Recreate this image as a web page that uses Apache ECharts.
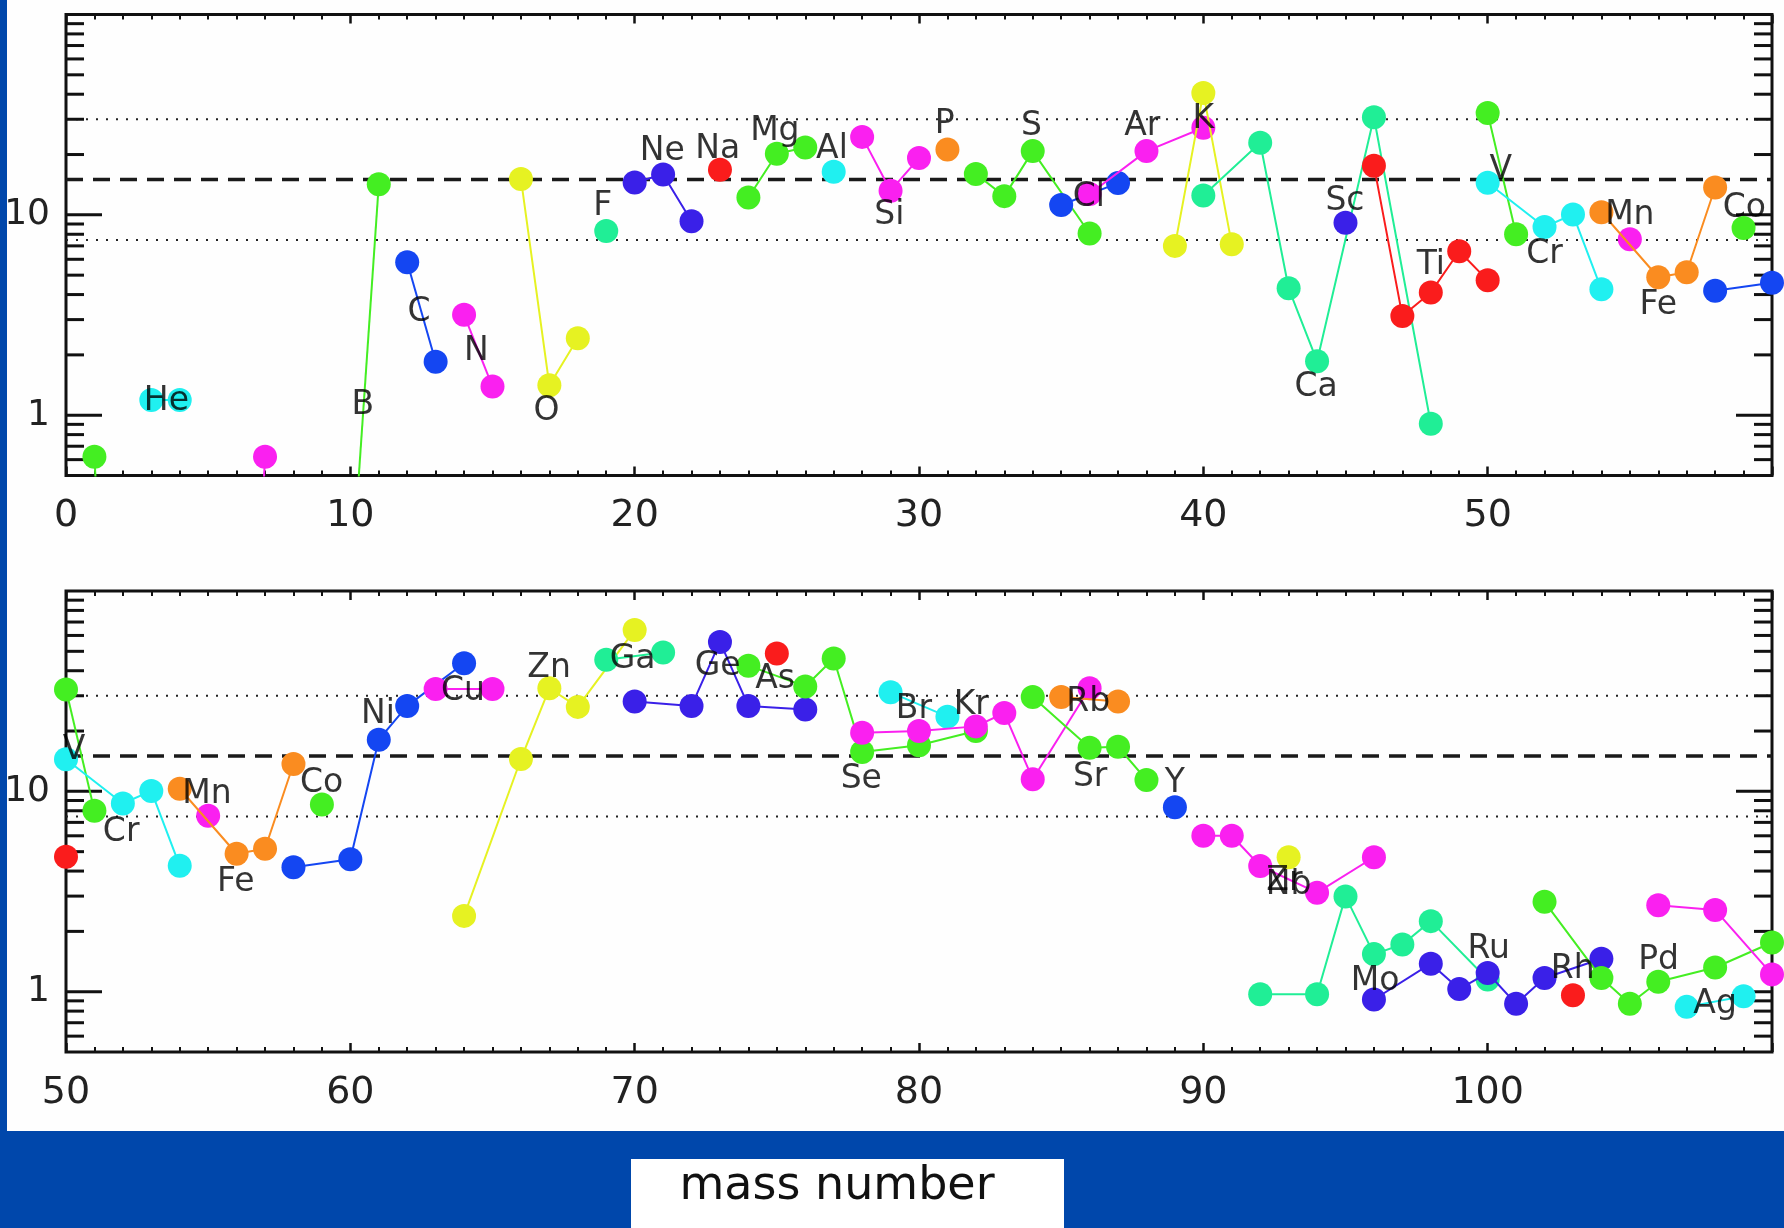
<!DOCTYPE html>
<html>
<head>
<meta charset="utf-8">
<title>Isotope ratios versus mass number</title>
<script src="https://cdn.jsdelivr.net/npm/echarts@6/dist/echarts.min.js"></script>
<style>
  html, body { margin: 0; padding: 0; background: #0047ab; }
  #chart { width: 1784px; height: 1228px; }
</style>
</head>
<body>
<div id="chart"></div>
<script>
// ---- isotopes of each element: [mass number, value] ----
const H  = [[1, 0.62], [2, 0.001]];
const He = [[3, 1.19], [4, 1.19]];
const Li = [[6, 0.001], [7, 0.62]];
const B  = [[10, 0.12], [11, 14.2]];
const C  = [[12, 5.8], [13, 1.85]];
const N  = [[14, 3.17], [15, 1.39]];
const O  = [[16, 15.1], [17, 1.41], [18, 2.42]];
const F  = [[19, 8.3]];
const Ne = [[20, 14.5], [21, 15.9], [22, 9.3]];
const Na = [[23, 16.8]];
const Mg = [[24, 12.2], [25, 20.2], [26, 21.7]];
const Al = [[27, 16.4]];
const Si = [[28, 24.5], [29, 13.2], [30, 19.2]];
const P  = [[31, 21.2]];
const S  = [[32, 16.0], [33, 12.4], [34, 20.8], [36, 8.07]];
const Cl = [[35, 11.2], [37, 14.4]];
const Ar = [[36, 12.7], [38, 20.8], [40, 27.2]];
const K  = [[39, 7.0], [40, 40.6], [41, 7.14]];
const Ca = [[40, 12.5], [42, 22.9], [43, 4.3], [44, 1.86], [46, 30.7], [48, 0.906]];
const Sc = [[45, 9.14]];
const Ti = [[46, 17.6], [47, 3.13], [48, 4.10], [49, 6.58], [50, 4.71]];
const V  = [[50, 32.2], [51, 8.0]];
const Cr = [[50, 14.45], [52, 8.7], [53, 10.05], [54, 4.25]];
const Mn = [[55, 7.55]];
const Fe = [[54, 10.3], [56, 4.88], [57, 5.17], [58, 13.7]];
const Co = [[59, 8.6]];
const Ni = [[58, 4.18], [60, 4.58], [61, 18.1], [62, 26.7], [64, 43.6]];
const Cu = [[63, 32.4], [65, 32.4]];
const Zn = [[64, 2.39], [66, 14.5], [67, 32.7], [68, 26.4], [70, 63.8]];
const Ga = [[69, 45.4], [71, 49.3]];
const Ge = [[70, 28.1], [72, 26.7], [73, 55.7], [74, 26.7], [76, 25.6]];
const As = [[75, 48.7]];
const Se = [[74, 42.4], [76, 33.4], [77, 46.0], [78, 15.7], [80, 17.0], [82, 20.0]];
const Br = [[79, 31.2], [81, 23.6]];
const Kr = [[78, 19.6], [80, 20.0], [82, 21.1], [83, 24.6], [84, 11.5], [86, 32.7]];
const Rb = [[85, 29.6], [87, 28.1]];
const Sr = [[84, 29.6], [86, 16.5], [87, 16.7], [88, 11.4]];
const Y  = [[89, 8.32]];
const Zr = [[90, 6.0], [91, 6.0], [92, 4.24], [94, 3.12], [96, 4.69]];
const Nb = [[93, 4.69]];
const Mo = [[92, 0.97], [94, 0.97], [95, 2.99], [96, 1.54], [97, 1.72], [98, 2.25], [100, 1.15]];
const Ru = [[96, 0.914], [98, 1.38], [99, 1.03], [100, 1.24], [101, 0.87], [102, 1.17], [104, 1.46]];
const Rh = [[103, 0.96]];
const Pd = [[102, 2.81], [104, 1.17], [105, 0.87], [106, 1.12], [108, 1.32], [110, 1.76]];
const Ag = [[107, 0.84], [109, 0.95]];
const Cd = [[106, 2.70], [108, 2.56], [110, 1.22]];

// drawing order (by atomic number)
const elementOrder = ['H', 'He', 'Li', 'B', 'C', 'N', 'O', 'F', 'Ne', 'Na', 'Mg', 'Al', 'Si', 'P',
  'S', 'Cl', 'Ar', 'K', 'Ca', 'Sc', 'Ti', 'V', 'Cr', 'Mn', 'Fe', 'Co', 'Ni', 'Cu', 'Zn', 'Ga',
  'Ge', 'As', 'Se', 'Br', 'Kr', 'Rb', 'Sr', 'Y', 'Zr', 'Nb', 'Mo', 'Ru', 'Rh', 'Pd', 'Ag', 'Cd'];
const isotopes = { H, He, Li, B, C, N, O, F, Ne, Na, Mg, Al, Si, P, S, Cl, Ar, K, Ca, Sc, Ti, V, Cr,
  Mn, Fe, Co, Ni, Cu, Zn, Ga, Ge, As, Se, Br, Kr, Rb, Sr, Y, Zr, Nb, Mo, Ru, Rh, Pd, Ag, Cd };

// element names written in each panel: [symbol, mass number, value]
const upperNames = [
  ['He', 3.53, 1.17], ['B', 10.44, 1.12], ['C', 12.42, 3.27], ['N', 14.43, 2.08], ['O', 16.9, 1.05],
  ['F', 18.88, 11.0], ['Ne', 20.97, 20.8], ['Na', 22.92, 21.2], ['Mg', 24.93, 26.1], ['Al', 26.94, 21.2],
  ['Si', 28.96, 9.9], ['P', 30.9, 28.3], ['S', 33.96, 27.7], ['Cl', 35.97, 12.2], ['Ar', 37.85, 27.7],
  ['K', 40.0, 30.1], ['Ca', 43.97, 1.38], ['Sc', 44.98, 11.7], ['Ti', 48.0, 5.58], ['V', 50.46, 16.6],
  ['Cr', 52.0, 6.31], ['Mn', 55.0, 9.9], ['Fe', 56.0, 3.55], ['Co', 59.03, 10.8]
];
const lowerNames = [
  ['V', 50.28, 16.0], ['Cr', 51.94, 6.25], ['Mn', 54.96, 9.6], ['Fe', 55.97, 3.52], ['Co', 58.99, 10.9],
  ['Ni', 60.97, 24.1], ['Cu', 63.96, 31.4], ['Zn', 66.99, 41.3], ['Ga', 69.93, 45.4], ['Ge', 72.92, 41.9],
  ['As', 74.94, 36.3], ['Se', 77.97, 11.5], ['Br', 79.82, 25.6], ['Kr', 81.84, 26.7], ['Rb', 85.95, 27.8],
  ['Sr', 86.02, 11.8], ['Y', 89.0, 10.9], ['Zr', 92.85, 3.55], ['Nb', 93.0, 3.4], ['Mo', 96.04, 1.12],
  ['Ru', 100.04, 1.62], ['Rh', 102.99, 1.29], ['Pd', 106.01, 1.43], ['Ag', 108.0, 0.86]
];

// horizontal reference levels
const dashedLevels = [15];
const dottedLevels = [7.5, 30];

// axis ranges and ticks
const upperMassRange = [0, 60];
const lowerMassRange = [50, 110];
const valueRange = [0.5, 100];
const massStep = 10;
const valueTicks = [0.6, 0.7, 0.8, 0.9, 1, 2, 3, 4, 5, 6, 7, 8, 9, 10, 20, 30, 40, 50, 60, 70, 80, 90];
const valueTickLabels = [1, 10];

// ---- styles ----
const GREEN = '#44ee22', CYAN = '#20f0f0', MAGENTA = '#fa20f0', BLUE = '#1446f2', VIOLET = '#3a20e8',
      YELLOW = '#e6f222', TEAL = '#20ee96', RED = '#fa1c1c', ORANGE = '#fa8c20';
const elementColor = {
  H: GREEN, He: CYAN, Li: MAGENTA, B: GREEN, C: BLUE, N: MAGENTA, O: YELLOW, F: TEAL, Ne: VIOLET,
  Na: RED, Mg: GREEN, Al: CYAN, Si: MAGENTA, P: ORANGE, S: GREEN, Cl: BLUE, Ar: MAGENTA, K: YELLOW,
  Ca: TEAL, Sc: VIOLET, Ti: RED, V: GREEN, Cr: CYAN, Mn: MAGENTA, Fe: ORANGE, Co: GREEN, Ni: BLUE,
  Cu: MAGENTA, Zn: YELLOW, Ga: TEAL, Ge: VIOLET, As: RED, Se: GREEN, Br: CYAN, Kr: MAGENTA,
  Rb: ORANGE, Sr: GREEN, Y: BLUE, Zr: MAGENTA, Nb: YELLOW, Mo: TEAL, Ru: VIOLET, Rh: RED,
  Pd: GREEN, Ag: CYAN, Cd: MAGENTA
};
const FONT = '"DejaVu Sans", "Liberation Sans", sans-serif';
const INK = '#111111';

const panels = [
  { range: upperMassRange, names: upperNames, grid: { left: 66, top: 14.5, width: 1706, height: 461 } },
  { range: lowerMassRange, names: lowerNames, grid: { left: 66, top: 591, width: 1706, height: 461 } }
];

const grids = [], xAxes = [], yAxes = [], series = [];

panels.forEach((panel, g) => {
  grids.push(Object.assign({ show: true, borderColor: INK, borderWidth: 3, backgroundColor: 'transparent' }, panel.grid));

  const tickCommon = {
    type: 'value', gridIndex: g, min: panel.range[0], max: panel.range[1], interval: massStep,
    axisLine: { show: false }, splitLine: { show: false },
    axisTick: { show: true, inside: true, length: 9, lineStyle: { color: INK, width: 2.5 } },
    minorTick: { show: true, splitNumber: 10, length: 5, lineStyle: { color: INK, width: 2 } }
  };
  // bottom axis with labels
  xAxes.push(Object.assign({}, tickCommon, {
    position: 'bottom',
    axisLabel: { show: true, fontSize: 38, fontFamily: FONT, color: '#222', margin: 22, showMaxLabel: false }
  }));
  // top axis, ticks only
  xAxes.push(Object.assign({}, tickCommon, { position: 'top', axisLabel: { show: false } }));

  yAxes.push({
    type: 'log', logBase: 10, gridIndex: g, min: valueRange[0], max: valueRange[1],
    axisLine: { show: false }, axisTick: { show: false }, splitLine: { show: false }, minorTick: { show: false },
    axisLabel: {
      fontSize: 36, fontFamily: FONT, color: '#222', margin: 16,
      formatter: v => valueTickLabels.some(t => Math.abs(v - t) < 1e-6) ? String(Math.round(v)) : ''
    }
  });

  const xBottom = 2 * g;

  // reference levels
  const levelLine = (level, type) => ({
    type: 'line', xAxisIndex: xBottom, yAxisIndex: g, silent: true, symbol: 'none', z: 1,
    data: [[panel.range[0], level], [panel.range[1], level]],
    lineStyle: type === 'dashed'
      ? { color: '#1a1a1a', width: 3.5, type: [17, 10] }
      : { color: '#222', width: 2, type: [2, 8] }
  });
  dashedLevels.forEach(l => series.push(levelLine(l, 'dashed')));
  dottedLevels.forEach(l => series.push(levelLine(l, 'dotted')));

  // log ticks on the left and right frame
  series.push({
    type: 'custom', xAxisIndex: xBottom, yAxisIndex: g, silent: true, z: 5,
    encode: { x: 0, y: 1 },
    data: valueTicks.map(v => [panel.range[0], v]),
    renderItem: (params, api) => {
      const v = api.value(1);
      const lg = Math.log10(v);
      const major = Math.abs(lg - Math.round(lg)) < 1e-9;
      const len = major ? 36 : 18;
      const a = api.coord([panel.range[0], v]);
      const b = api.coord([panel.range[1], v]);
      const st = { stroke: INK, lineWidth: 3 };
      return {
        type: 'group', children: [
          { type: 'line', shape: { x1: a[0], y1: a[1], x2: a[0] + len, y2: a[1] }, style: st },
          { type: 'line', shape: { x1: b[0], y1: b[1], x2: b[0] - len, y2: b[1] }, style: st }
        ]
      };
    }
  });

  // isotopes of each element joined by a line
  elementOrder.forEach((el, i) => {
    series.push({
      type: 'line', name: el, xAxisIndex: xBottom, yAxisIndex: g, clip: true, z: 10 + i * 0.01,
      data: isotopes[el], symbol: 'circle', symbolSize: 24, showAllSymbol: true,
      itemStyle: { color: elementColor[el] },
      lineStyle: { color: elementColor[el], width: 2 },
      emphasis: { disabled: true }, animation: false
    });
  });

  // element names
  series.push({
    type: 'scatter', xAxisIndex: xBottom, yAxisIndex: g, z: 20, silent: true,
    symbolSize: 1, itemStyle: { color: 'rgba(0,0,0,0)' },
    data: panel.names.map(([s, m, v]) => ({ name: s, value: [m, v] })),
    label: {
      show: true, position: 'inside', formatter: '{b}', color: '#000',
      fontSize: 33, fontFamily: FONT
    },
    animation: false
  });
});

const chart = echarts.init(document.getElementById('chart'), null, { renderer: 'canvas' });
chart.setOption({
  backgroundColor: '#0047ab',
  animation: false,
  grid: grids,
  xAxis: xAxes,
  yAxis: yAxes,
  series: series,
  graphic: [
    { type: 'rect', z: -100, shape: { x: 7, y: 0, width: 1777, height: 1131 }, style: { fill: '#fefefe' } },
    { type: 'rect', z: -100, shape: { x: 631, y: 1159, width: 433, height: 69 }, style: { fill: '#ffffff' } },
    {
      type: 'text', z: 50, x: 837, y: 1187,
      style: { text: 'mass number', fontSize: 46, fontFamily: FONT, fill: INK, align: 'center', verticalAlign: 'middle' }
    }
  ]
});
</script>
</body>
</html>
